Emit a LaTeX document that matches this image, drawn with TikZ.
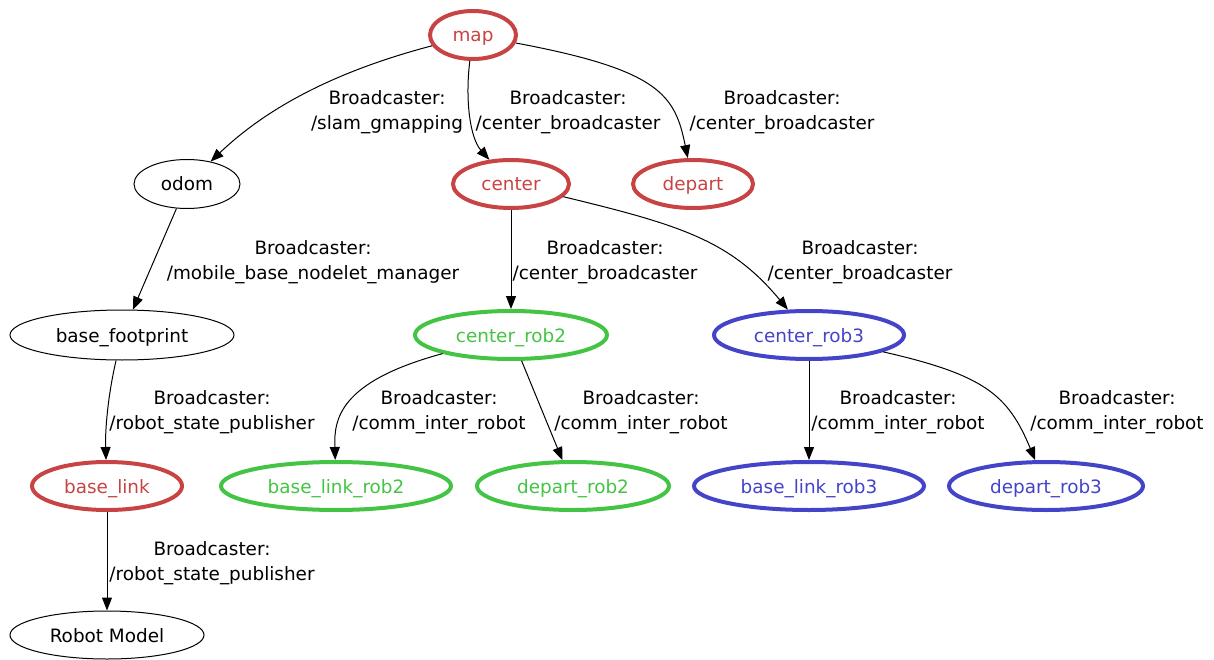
\documentclass[tikz,border=0pt]{standalone}
\usepackage{fontspec}
\setmainfont{DejaVu Sans}
\usetikzlibrary{shapes.geometric,arrows.meta}
\definecolor{cred}{RGB}{200,68,68}
\definecolor{cgreen}{RGB}{68,196,68}
\definecolor{cblue}{RGB}{68,68,200}
\tikzset{
  tfnode/.style={ellipse, draw=black, line width=1pt, inner sep=0pt, text height=14pt, text depth=0pt, font=\fontsize{18.4}{22}\selectfont},
  rednode/.style={tfnode, draw=cred, text=cred, line width=4pt},
  greennode/.style={tfnode, draw=cgreen, text=cgreen, line width=4pt},
  bluenode/.style={tfnode, draw=cblue, text=cblue, line width=4pt},
  edge/.style={draw=black, line width=1pt, -{Triangle[length=13pt,width=10pt]}},
  elabel/.style={align=center, inner sep=0pt, font=\fontsize{18.4}{24.5}\selectfont}
}
\begin{document}
\begin{tikzpicture}[x=1pt,y=-1pt]
\useasboundingbox (0,0) rectangle (1214,660);
% nodes
\node[rednode, minimum width=86, minimum height=48] (map) at (473,35) {map};
\node[tfnode, minimum width=106, minimum height=49] (odom) at (187,184) {odom};
\node[rednode, minimum width=116, minimum height=48] (center) at (511,184) {center};
\node[rednode, minimum width=120, minimum height=48] (depart) at (693,184) {depart};
\node[tfnode, minimum width=224, minimum height=50] (bfp) at (122,335) {base\_footprint};
\node[greennode, minimum width=192, minimum height=48] (crob2) at (511,335) {center\_rob2};
\node[bluenode, minimum width=190, minimum height=48] (crob3) at (809,335) {center\_rob3};
\node[rednode, minimum width=150, minimum height=48] (blink) at (107,486) {base\_link};
\node[greennode, minimum width=230, minimum height=48] (blr2) at (336,486) {base\_link\_rob2};
\node[greennode, minimum width=192, minimum height=48] (dr2) at (573,486) {depart\_rob2};
\node[bluenode, minimum width=230, minimum height=48] (blr3) at (809,486) {base\_link\_rob3};
\node[bluenode, minimum width=194, minimum height=48] (dr3) at (1046,486) {depart\_rob3};
\node[tfnode, minimum width=194, minimum height=48] (rm) at (107,635) {Robot Model};
% edges
\draw[edge] (map) .. controls (340,70) and (270,105) .. (odom);
\draw[edge] (map) .. controls (465,100) and (470,138) .. (center);
\draw[edge] (map) .. controls (660,70) and (675,95) .. (depart);
\draw[edge] (odom) -- (bfp);
\draw[edge] (center) -- (crob2);
\draw[edge] (center) .. controls (680,225) and (730,240) .. (crob3);
\draw[edge] (bfp) .. controls (108,395) and (105,430) .. (blink);
\draw[edge] (crob2) .. controls (338,382) and (334,420) .. (blr2);
\draw[edge] (crob2) -- (dr2);
\draw[edge] (crob3) -- (blr3);
\draw[edge] (crob3) .. controls (985,375) and (1008,395) .. (dr3);
\draw[edge] (blink) -- (rm);
% labels
\node[elabel] (l1) at (387,112) {Broadcaster:\\/slam\_gmapping};
\node[elabel] (l2) at (568,112) {Broadcaster:\\/center\_broadcaster};
\node[elabel] (l3) at (782,112) {Broadcaster:\\/center\_broadcaster};
\node[elabel] (l4) at (313,262) {Broadcaster:\\/mobile\_base\_nodelet\_manager};
\node[elabel] (l5) at (605,262) {Broadcaster:\\/center\_broadcaster};
\node[elabel] (l6) at (860,262) {Broadcaster:\\/center\_broadcaster};
\node[elabel] (l7) at (212,412) {Broadcaster:\\/robot\_state\_publisher};
\node[elabel] (l8) at (439,412) {Broadcaster:\\/comm\_inter\_robot};
\node[elabel] (l9) at (641,412) {Broadcaster:\\/comm\_inter\_robot};
\node[elabel] (l10) at (898,412) {Broadcaster:\\/comm\_inter\_robot};
\node[elabel] (l11) at (1117,412) {Broadcaster:\\/comm\_inter\_robot};
\node[elabel] (l12) at (212,563) {Broadcaster:\\/robot\_state\_publisher};
\end{tikzpicture}
\end{document}
